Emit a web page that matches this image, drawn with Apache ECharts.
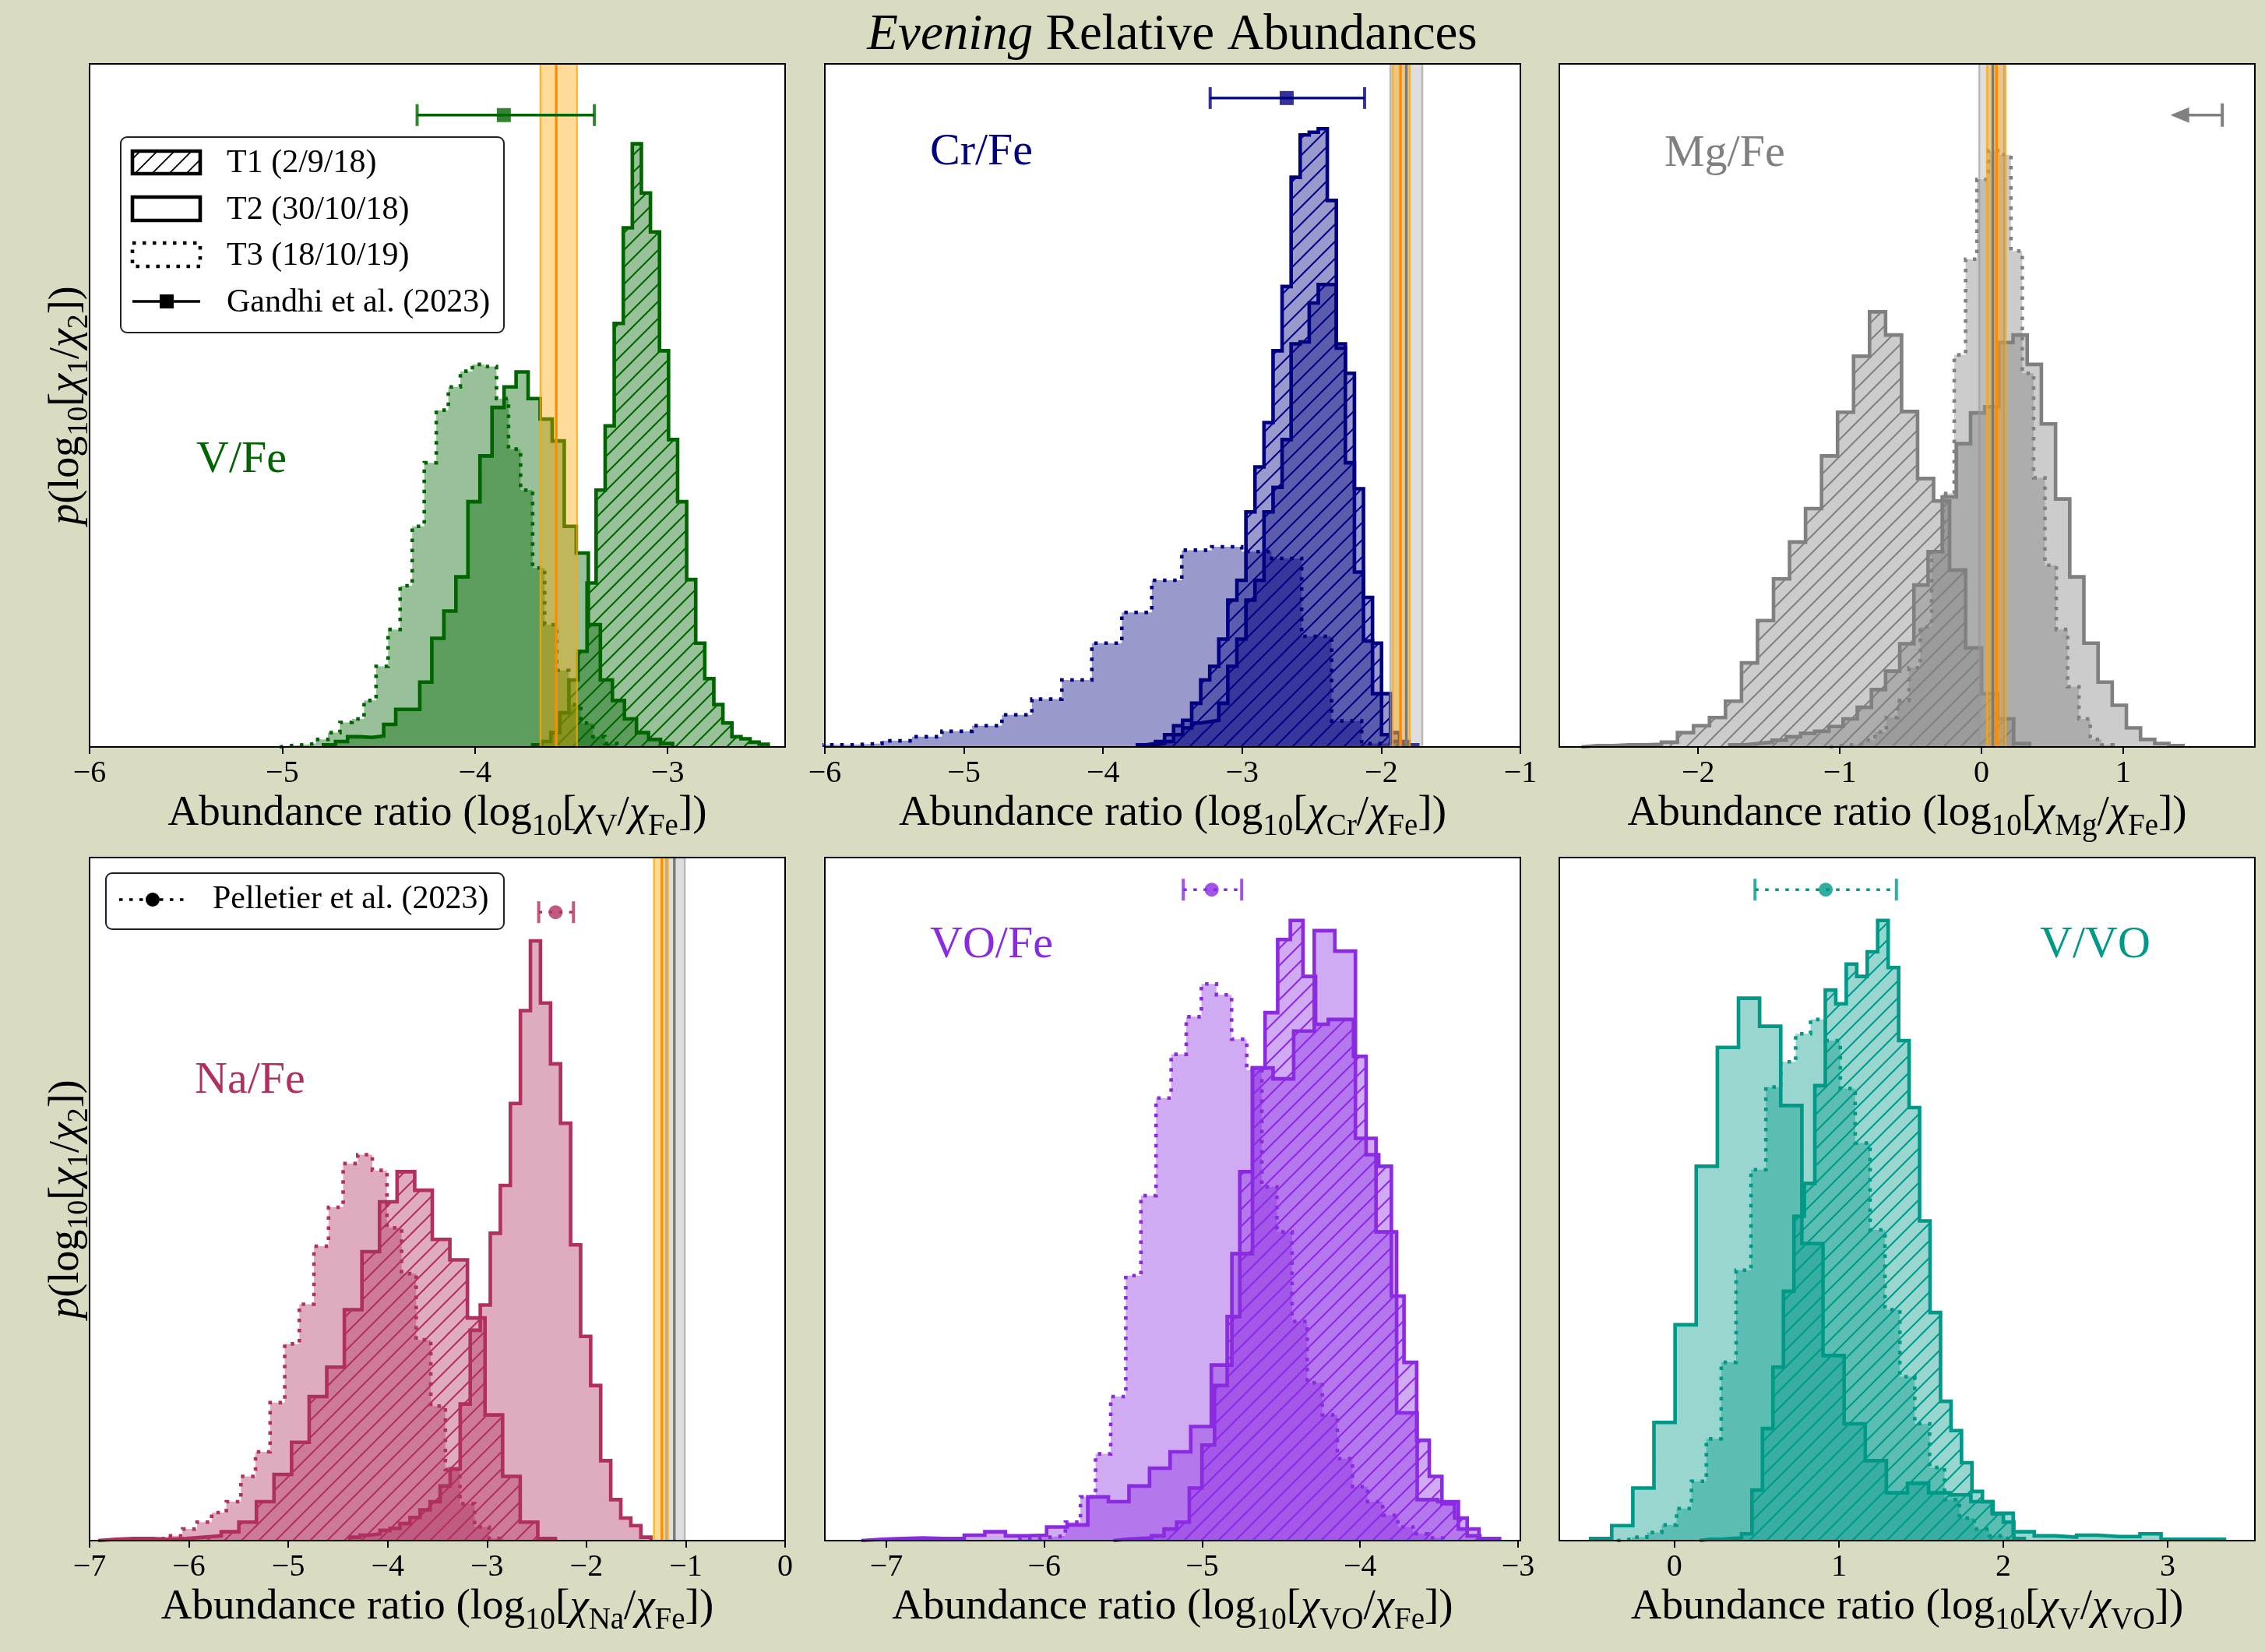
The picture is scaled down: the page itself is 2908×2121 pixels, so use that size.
<!DOCTYPE html>
<html><head><meta charset="utf-8">
<script src="https://cdn.jsdelivr.net/npm/echarts@6/dist/echarts.min.js"></script>
<style>html,body{margin:0;padding:0;background:#D9DCC0;}#c{width:2908px;height:2121px;}</style>
</head><body><div id="c"></div>
<script>
// ---------------- DATA ----------------
// Histogram heights (percent of panel height) and bin ranges [start, end]
// V/Fe
const vfeT1 = [0.3,0.8,2.1,5.0,9.8,14,24,37.6,47,62,76,88.3,81.1,75.4,58,45,35.9,24.5,15.2,10,6.2,3.5,1.5,1.2,0.7,0.4];
const vfeT1Range = [-3.700, -2.478];
const vfeT2 = [0.3,0.8,1.5,1.4,1.6,3.3,5.5,5.5,9.5,15.9,19.9,24.9,35.9,42.6,49.7,52.7,54.9,51,48,44.8,32.3,28.4,17.9,9.8,6.8,4.1,2.1,1.1,0.5];
const vfeT2Range = [-4.786, -2.974];
const vfeT3 = [0.2,0.3,0.5,1.1,2.1,3.6,4.1,6.8,11.8,17.2,23.6,32.3,41.6,49.3,52.7,55,56,55.7,51,43.6,37.6,26.2,17.9,11.2,6.2,3.5,1.5,0.5];
const vfeT3Range = [-5.013, -3.263];
// Cr/Fe
const crfeT1 = [0.3,0.5,0.8,1.8,3.1,3.9,6.4,9.8,11.8,15.8,21.5,24.4,34.4,41,47.5,58,67.4,83.4,89.6,90,90.5,80,59,54.7,37.8,21.9,15.2,7.8,2.1,0.8,0.3];
const crfeT1Range = [-3.753, -1.738];
const crfeT2 = [0.3,0.5,0.8,1.8,2.8,3.5,3.7,3.9,6.4,11.8,15.8,21.5,24.4,34.4,38,45,59,59.3,65,67.7,67.7,58.4,41.6,25.6,15.5,7.8,1.8,0.8,0.3];
const crfeT2Range = [-3.688, -1.803];
const crfeT3 = [0.3,0.5,0.9,1.5,2.3,3.1,4.7,7.0,9.8,15.2,19.7,24.4,28.8,29.3,28.6,27.6,16.2,3.8,0.5];
const crfeT3Range = [-6.020, -1.926];
// Mg/Fe
const mgfeT1 = [0.2,0.2,0.3,0.3,0.4,0.7,2.1,3.1,4.3,6.7,12.3,18.5,24.6,30,34.9,42.6,49,57.2,63.7,60.3,49.1,39.3,36,25.9,14.5,7.8,4.1,0.5];
const mgfeT1Range = [-2.824, 0.340];
const mgfeT2 = [0.3,0.5,0.7,1.0,1.5,2.0,2.3,3.0,4.1,5.8,8.4,11.1,15.1,23.7,28.6,36.6,44.4,48.9,49.8,59.2,60.3,56,47.3,36.3,24.9,15.2,9.5,6.1,2.8,1.1,0.5,0.2];
const mgfeT2Range = [-1.777, 1.423];
const mgfeT3 = [0.2,0.3,0.5,1.0,2.2,4.3,6.8,11.6,17.6,28.6,37.1,57.4,71.4,83.1,87.3,86.7,72.6,54.7,39.4,26.6,17.2,8.8,4.1,1.1,0.3];
const mgfeT3Range = [-1.072, 0.928];
// Na/Fe
const nafeT1 = [0.2,0.3,0.3,0.2,0.3,0.5,0.7,1.3,2.7,5.7,9.7,14.4,21.1,25.4,33.8,42.3,49.6,54,51.3,44.1,41.1,32.6,18.4,9.4,2.7,0.3];
const nafeT1Range = [-6.914, -2.312];
const nafeT2 = [0.5,0.8,1.0,1.5,1.8,2.5,3.4,4.5,5.7,8.0,10.5,20,30.8,34.5,45,52,64,77.6,87.8,78.7,69.8,61.1,43.3,29.9,22.7,11.7,6.0,3.3,2.2,0.5];
const nafeT2Range = [-4.381, -1.351];
const nafeT3 = [0.3,0.7,1.7,2.7,4.1,5.7,9.4,13,20.2,28.8,34.6,43.1,48.8,55.2,56.5,54.2,45.8,39.1,29.4,19.7,10.4,5.4,2.0,0.3];
const nafeT3Range = [-6.359, -2.831];
// VO/Fe
const vofeT1 = [0.2,0.3,0.4,0.7,1.7,2.7,7.7,14.0,22.7,32.8,54,69.2,77.3,88,90.8,82.6,75.6,76.3,76.3,70.9,56.5,54.8,35.8,26.1,14.7,9.4,5.4,3.3,0.7,0.2];
const vofeT1Range = [-5.562, -3.162];
const vofeT2 = [0.2,0.3,0.4,0.3,0.3,0.8,1.3,0.7,0.8,2.0,2.3,6.4,5.7,8.0,10.6,13.0,16.7,25.7,42,69.2,67.6,74.6,89.3,86.3,58.9,45.2,18.7,6.0,5.7,1.7,0.3];
const vofeT2Range = [-7.159, -3.117];
const vofeT3 = [0.3,0.5,0.7,2.7,6.4,12.7,21.1,38.8,50.5,64.8,71.2,76.7,81.5,79.9,73.4,68.9,51.8,45.2,32.1,23.1,18.4,12.0,7.9,5.7,3.7,2.0,1.0,0.4];
const vofeT3Range = [-6.154, -3.474];
// V/VO
const vvoT1 = [0.2,0.2,0.3,0.4,1.0,7.4,16.4,25.4,36.5,47.5,52.3,66.6,80.6,78.6,84.4,82.6,86.2,90.8,83.9,73.2,63.4,46.8,33.4,20.4,16.1,11.4,7.2,5.7,3.9,2.7,0.3];
const vvoT1Range = [0.153, 2.128];
const vvoT2 = [0.3,2.2,7.7,17.3,31.6,54.8,72.2,79.4,75.3,63.7,43.5,27.1,17.1,11.7,7.0,8.4,7.0,6.7,5.7,4.0,1.3,0.7,0.5,0.8,0.6,0.6,1.0,0.2,0.2,0.2];
const vvoT2Range = [-0.510, 3.345];
const vvoT3 = [0.2,0.5,1.2,2.3,4.7,8.7,14.9,26.1,39.6,54.3,66.4,70.1,74.2,76.3,73.2,66.2,58.2,45.5,33.8,24,17.1,10.7,6.0,3.3,1.7,0.7,0.3];
const vvoT3Range = [-0.349, 2.095];

// Literature values [low, value, high]
const vfeGandhi = [-4.30, -3.85, -3.38];
const crfeGandhi = [-3.23, -2.68, -2.12];
const mgfeGandhiLimit = [1.40, 1.70];   // arrow head, upper limit
const nafePelletier = [-2.48, -2.31, -2.13];
const vofePelletier = [-5.12, -4.94, -4.75];
const vvoPelletier = [0.49, 0.92, 1.35];

// Reference bands [low, centre, high]
const vfeOrange = [-3.66, -3.578, -3.47];
const crfeOrange = [-1.918, -1.862, -1.795];
const crfeGray = [-1.935, -1.82, -1.705];
const mgfeOrange = [0.039, 0.106, 0.171];
const mgfeGray = [-0.016, 0.08, 0.16];
const nafeOrange = [-1.32, -1.24, -1.18];
const nafeGray = [-1.20, -1.115, -1.01];

// Tick labels
const vfeTicks = [-6, -5, -4, -3];
const crfeTicks = [-6, -5, -4, -3, -2, -1];
const mgfeTicks = [-2, -1, 0, 1];
const nafeTicks = [-7, -6, -5, -4, -3, -2, -1, 0];
const vofeTicks = [-7, -6, -5, -4, -3];
const vvoTicks = [0, 1, 2, 3];

// ---------------- LAYOUT / STYLE ----------------
const F = "'Liberation Serif','DejaVu Serif',serif";
const W = 893, H = 877;
const LW = 4.6;
const DOT = [4.5, 8.5];
const panels = [
  {name:'V/Fe', color:'#006400', left:115, top:82, xr:[-6,-2.39], ticks:vfeTicks,
   h:[[vfeT1,vfeT1Range],[vfeT2,vfeT2Range],[vfeT3,vfeT3Range]],
   sub:'V', bands:[['o',vfeOrange]], err:{v:vfeGandhi, y:92.5, dotted:false, sym:'rect'},
   lab:{x:252, y:591, align:'left'}},
  {name:'Cr/Fe', color:'#000080', left:1059, top:82, xr:[-6,-1], ticks:crfeTicks,
   h:[[crfeT1,crfeT1Range],[crfeT2,crfeT2Range],[crfeT3,crfeT3Range]],
   sub:'Cr', bands:[['g',crfeGray],['o',crfeOrange]], err:{v:crfeGandhi, y:95.0, dotted:false, sym:'rect'},
   lab:{x:1194, y:196, align:'left'}},
  {name:'Mg/Fe', color:'#808080', left:2002, top:82, xr:[-2.98,1.93], ticks:mgfeTicks,
   h:[[mgfeT1,mgfeT1Range],[mgfeT2,mgfeT2Range],[mgfeT3,mgfeT3Range]],
   sub:'Mg', bands:[['g',mgfeGray],['o',mgfeOrange]], lim:{v:mgfeGandhiLimit, y:92.5},
   lab:{x:2137, y:198, align:'left'}},
  {name:'Na/Fe', color:'#B03060', left:115, top:1101, xr:[-7,0], ticks:nafeTicks,
   h:[[nafeT1,nafeT1Range],[nafeT2,nafeT2Range],[nafeT3,nafeT3Range]],
   sub:'Na', bands:[['o',nafeOrange],['g',nafeGray]], err:{v:nafePelletier, y:92.0, dotted:true, sym:'circle'},
   lab:{x:250, y:1388, align:'left'}},
  {name:'VO/Fe', color:'#8A2BE2', left:1059, top:1101, xr:[-7.39,-2.985], ticks:vofeTicks,
   h:[[vofeT1,vofeT1Range],[vofeT2,vofeT2Range],[vofeT3,vofeT3Range]],
   sub:'VO', bands:[], err:{v:vofePelletier, y:95.3, dotted:true, sym:'circle'},
   lab:{x:1194, y:1214, align:'left'}},
  {name:'V/VO', color:'#009988', left:2002, top:1101, xr:[-0.70,3.53], ticks:vvoTicks,
   h:[[vvoT1,vvoT1Range],[vvoT2,vvoT2Range],[vvoT3,vvoT3Range]],
   sub:'V', den:'VO', bands:[], err:{v:vvoPelletier, y:95.3, dotted:true, sym:'circle'},
   lab:{x:2619, y:1214, align:'left'}},
];

function rgba(hex, a){
  const n = parseInt(hex.slice(1),16);
  return 'rgba('+((n>>16)&255)+','+((n>>8)&255)+','+(n&255)+','+a+')';
}
function hatch(bg, line, lw){
  const s = 22, c = document.createElement('canvas');
  c.width = s; c.height = s;
  const g = c.getContext('2d');
  g.fillStyle = bg; g.fillRect(0,0,s,s);
  g.strokeStyle = line; g.lineWidth = lw || 2;
  g.beginPath();
  g.moveTo(-2, s+2); g.lineTo(s+2, -2);
  g.moveTo(-s/2-2, s/2+2); g.lineTo(s/2+2, -s/2-2);
  g.moveTo(s/2-2, s*1.5+2); g.lineTo(s*1.5+2, s/2-2);
  g.stroke();
  return {image: c, repeat: 'repeat'};
}
function stepPts(h, range){
  const w = (range[1]-range[0])/h.length;
  const pts = [[range[0],0]];
  for (let i=0;i<h.length;i++){ const a = range[0]+i*w; pts.push([a,h[i]],[a+w,h[i]]); }
  pts.push([range[1],0]);
  return pts;
}
function RICH(sz){
  return {
    n:{fontFamily:F, fontSize:sz, lineHeight:sz*1.1, fill:'#000', color:'#000'},
    i:{fontFamily:F, fontSize:sz, fontStyle:'italic', lineHeight:sz*1.1, fill:'#000', color:'#000'},
    s:{fontFamily:F, fontSize:Math.round(sz*0.7), lineHeight:Math.round(sz*0.7), padding:[Math.round(sz*0.6),0,0,0], fill:'#000', color:'#000'}
  };
}

const grids=[], xAxes=[], yAxes=[], series=[], graphics=[];
panels.forEach((p,k)=>{
  grids.push({left:p.left, top:p.top, width:W, height:H, show:true, backgroundColor:'#ffffff', borderWidth:0});
  xAxes.push({type:'value', gridIndex:k, min:p.xr[0], max:p.xr[1], z:10,
    axisLine:{show:false}, splitLine:{show:false},
    axisTick:{show:true, inside:false, length:9, lineStyle:{color:'#000', width:2}, customValues:p.ticks},
    axisLabel:{show:true, margin:14, color:'#000', fontFamily:F, fontSize:40, customValues:p.ticks,
      formatter:v=>String(v).replace('-','\u2212')}});
  yAxes.push({type:'value', gridIndex:k, min:0, max:100, show:false});
  const styles = [
    {dash:'solid', fill: hatch(rgba(p.color,0.4), p.color, 2)},
    {dash:'solid', fill: rgba(p.color,0.4)},
    {dash:DOT, fill: rgba(p.color,0.4)}
  ];
  p.h.forEach((hr,j)=>{
    series.push({type:'line', xAxisIndex:k, yAxisIndex:k, data:stepPts(hr[0],hr[1]),
      symbol:'none', showSymbol:false, silent:true, animation:false, clip:true, z:2+j,
      lineStyle:{color:p.color, width:LW, type:styles[j].dash, cap:'butt', join:'miter'},
      areaStyle:{color:styles[j].fill, opacity:1}});
  });
  // reference bands
  p.bands.forEach(b=>{
    const isO = b[0]==='o', v = b[1];
    series.push({type:'line', xAxisIndex:k, yAxisIndex:k, silent:true, animation:false, z:8,
      data:[[v[0],0],[v[0],100],[v[2],100],[v[2],0]], symbol:'none',
      lineStyle:{color: isO ? 'rgba(255,165,0,0.75)' : 'rgba(150,150,150,0.6)', width:2.5},
      areaStyle:{color: isO ? 'rgba(255,165,0,0.4)' : 'rgba(160,160,160,0.35)', opacity:1}});
    series.push({type:'line', xAxisIndex:k, yAxisIndex:k, silent:true, animation:false, z:9,
      data:[[v[1],0],[v[1],100]], symbol:'none',
      lineStyle:{color: isO ? '#FF8C00' : '#7a7a7a', width:3.4}});
  });
  // literature error bars
  if (p.err){
    const e = p.err, y = e.y;
    series.push({type:'line', xAxisIndex:k, yAxisIndex:k, silent:true, animation:false, z:12,
      data:[[e.v[0],y],[e.v[2],y]], symbol:'none',
      lineStyle:{color:p.color, width:3.4, type: e.dotted ? DOT : 'solid'}});
    series.push({type:'scatter', xAxisIndex:k, yAxisIndex:k, silent:true, animation:false, z:13,
      data:[[e.v[0],y],[e.v[2],y]], symbol:'rect', symbolSize:[4,28], itemStyle:{color:p.color}});
    series.push({type:'scatter', xAxisIndex:k, yAxisIndex:k, silent:true, animation:false, z:14,
      data:[[e.v[1],y]], symbol:e.sym, symbolSize:18, itemStyle:{color:p.color}});
  }
  if (p.lim){
    const y = p.lim.y;
    series.push({type:'line', xAxisIndex:k, yAxisIndex:k, silent:true, animation:false, z:12,
      data:[{value:[p.lim.v[0],y], symbol:'triangle', symbolSize:[20,24], symbolRotate:90},
            {value:[p.lim.v[1],y], symbol:'rect', symbolSize:[4,30]}],
      symbol:'circle', showSymbol:true, showAllSymbol:true,
      itemStyle:{color:p.color}, lineStyle:{color:p.color, width:3.4}});
  }
  // frame
  graphics.push({type:'rect', z:100, silent:true, shape:{x:p.left, y:p.top, width:W, height:H},
    style:{fill:null, stroke:'#000', lineWidth:2}});
  // panel label
  graphics.push({type:'text', z:100, silent:true, x:p.lab.x, y:p.lab.y,
    style:{text:p.name, fill:p.color, font:'58px '+F, align:p.lab.align, verticalAlign:'middle'}});
  // x-axis label
  const den = p.den || 'Fe';
  graphics.push({type:'text', z:100, silent:true, x:p.left+W/2, y:p.top+H+86,
    style:{text:'{n|Abundance ratio (log}{s|10}{n|[}{i|\u03c7}{s|'+p.sub+'}{n|/}{i|\u03c7}{s|'+den+'}{n|])}',
      align:'center', verticalAlign:'middle', fill:'#000', rich:RICH(55)}});
});

// y labels
[82,1101].forEach(t=>{
  graphics.push({type:'text', z:100, silent:true, x:86, y:t+H/2, rotation:Math.PI/2,
    style:{text:'{i|p}{n|(log}{s|10}{n|[}{i|\u03c7}{s|1}{n|/}{i|\u03c7}{s|2}{n|])}',
      align:'center', verticalAlign:'middle', fill:'#000', rich:RICH(54)}});
});
// title
graphics.push({type:'text', z:100, silent:true, x:1505, y:46,
  style:{text:'{i|Evening}{n| Relative Abundances}', align:'center', verticalAlign:'middle',
    rich:{i:{fontFamily:F, fontSize:65, fontStyle:'italic', fill:'#000', color:'#000'},
          n:{fontFamily:F, fontSize:65, fill:'#000', color:'#000'}}}});
// legend panel 1
const LF = '42px '+F;
graphics.push({type:'rect', z:150, silent:true, shape:{x:155, y:176, width:492, height:251, r:8},
  style:{fill:'rgba(255,255,255,0.85)', stroke:'#222', lineWidth:2}});
graphics.push({type:'rect', z:151, silent:true, shape:{x:170, y:194, width:87, height:29},
  style:{fill:hatch('#ffffff','#000',1.8), stroke:'#000', lineWidth:LW}});
graphics.push({type:'rect', z:151, silent:true, shape:{x:170, y:253, width:87, height:30},
  style:{fill:'#ffffff', stroke:'#000', lineWidth:LW}});
graphics.push({type:'rect', z:151, silent:true, shape:{x:170, y:312, width:87, height:30},
  style:{fill:'#ffffff', stroke:'#000', lineWidth:LW, lineDash:DOT}});
graphics.push({type:'line', z:151, silent:true, shape:{x1:170, y1:387, x2:257, y2:387},
  style:{stroke:'#000', lineWidth:3.4}});
graphics.push({type:'rect', z:152, silent:true, shape:{x:205, y:378, width:18, height:18},
  style:{fill:'#000'}});
[['T1 (2/9/18)',210],['T2 (30/10/18)',270],['T3 (18/10/19)',329],['Gandhi et al. (2023)',389]].forEach(t=>{
  graphics.push({type:'text', z:152, silent:true, x:291, y:t[1],
    style:{text:t[0], font:LF, fill:'#000', align:'left', verticalAlign:'middle'}});
});
// legend panel 4
graphics.push({type:'rect', z:150, silent:true, shape:{x:136, y:1121, width:511, height:72, r:8},
  style:{fill:'rgba(255,255,255,0.85)', stroke:'#222', lineWidth:2}});
graphics.push({type:'line', z:151, silent:true, shape:{x1:153, y1:1155, x2:236, y2:1155},
  style:{stroke:'#000', lineWidth:3.4, lineDash:DOT}});
graphics.push({type:'circle', z:152, silent:true, shape:{cx:196, cy:1155, r:9}, style:{fill:'#000'}});
graphics.push({type:'text', z:152, silent:true, x:273, y:1155,
  style:{text:'Pelletier et al. (2023)', font:LF, fill:'#000', align:'left', verticalAlign:'middle'}});

const chart = echarts.init(document.getElementById('c'), null, {renderer:'canvas'});
chart.setOption({
  backgroundColor:'#D9DCC0',
  animation:false,
  textStyle:{fontFamily:F},
  grid:grids, xAxis:xAxes, yAxis:yAxes, series:series, graphic:graphics
});
</script></body></html>
